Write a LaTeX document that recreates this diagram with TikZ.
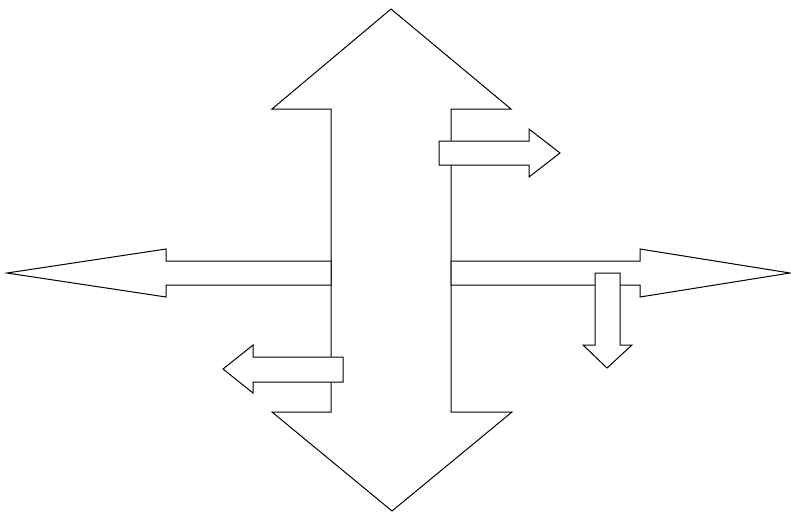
\documentclass[tikz,border=0pt]{standalone}
\usepackage{tikz}
\tikzstyle{blockarrow} = [draw=black, fill=white, line width=1pt, line join=miter]

\begin{document}
\begin{tikzpicture}[x=1pt, y=-1pt]

\useasboundingbox (0,0) rectangle (791,512);

% main up-down arrow
\draw[blockarrow] (391,9) -- (511,109) -- (451,109) -- (451,412) -- (512,412) -- (392,511)
  -- (272,412) -- (331,412) -- (331,109) -- (272,109) -- cycle;

% left and right arrows
\draw[blockarrow] (331,261) -- (166,261) -- (166,249) -- (7,273) -- (166,297) -- (166,285) -- (331,285) -- cycle;
\draw[blockarrow] (451,261) -- (640,261) -- (640,249) -- (790,273) -- (640,297) -- (640,285) -- (451,285) -- cycle;

% small arrows
\draw[blockarrow] (439,141) -- (529,141) -- (529,129) -- (560,153) -- (529,177) -- (529,165) -- (439,165) -- cycle;
\draw[blockarrow] (595,273) -- (620,273) -- (620,345) -- (632,345) -- (607,368) -- (583,345) -- (595,345) -- cycle;
\draw[blockarrow] (343,357) -- (253,357) -- (253,345) -- (223,369) -- (253,393) -- (253,382) -- (343,382) -- cycle;

\end{tikzpicture}
\end{document}
